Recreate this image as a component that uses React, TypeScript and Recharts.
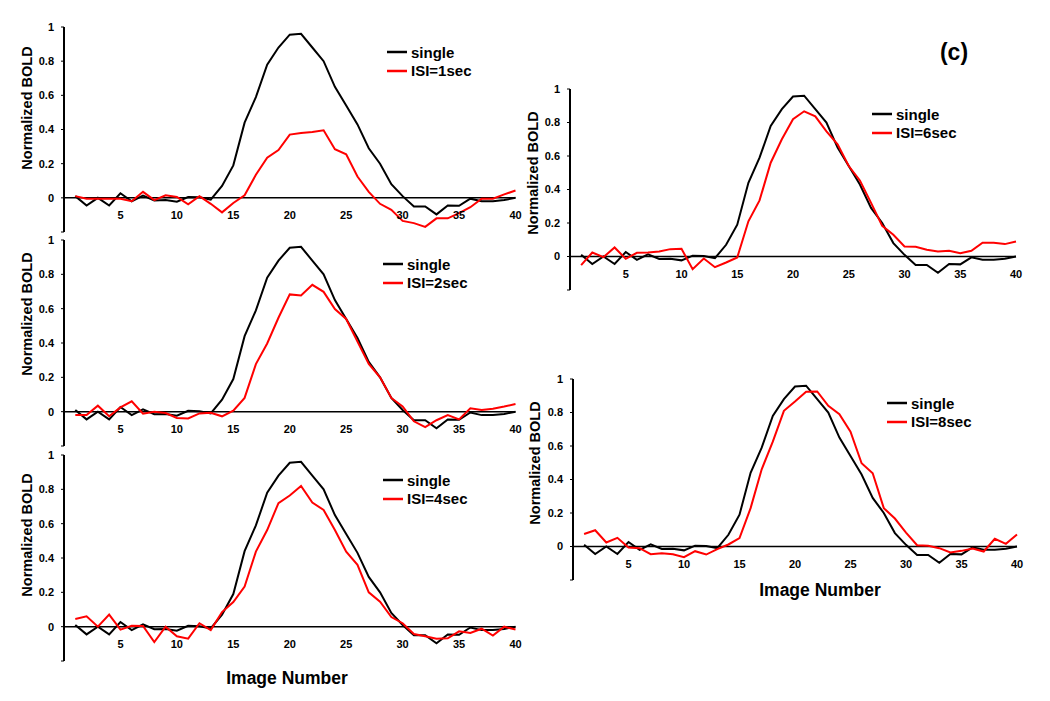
import { LineChart, Line, XAxis, YAxis, ReferenceLine, Legend } from "recharts";

const imageNumbers = [
  1, 2, 3, 4, 5, 6, 7, 8, 9, 10, 11, 12, 13, 14, 15, 16, 17, 18, 19, 20,
  21, 22, 23, 24, 25, 26, 27, 28, 29, 30, 31, 32, 33, 34, 35, 36, 37, 38, 39, 40,
];

const single = [
  0.01, -0.045, 0.0, -0.045, 0.027, -0.02, 0.013, -0.015, -0.013, -0.023,
  0.005, 0.003, -0.01, 0.07, 0.19, 0.44, 0.59, 0.78, 0.88, 0.955,
  0.96, 0.88, 0.8, 0.65, 0.54, 0.43, 0.29, 0.2, 0.08, 0.01,
  -0.05, -0.05, -0.097, -0.045, -0.047, -0.005, -0.02, -0.02, -0.013, 0.0,
];

const isi1 = [
  0.01, -0.005, -0.005, -0.005, -0.005, -0.02, 0.035, -0.013, 0.015, 0.005,
  -0.038, 0.01, -0.035, -0.085, -0.03, 0.015, 0.135, 0.235, 0.28, 0.37,
  0.38, 0.385, 0.395, 0.285, 0.255, 0.125, 0.035, -0.035, -0.07, -0.135,
  -0.148, -0.17, -0.12, -0.12, -0.09, -0.055, -0.005, -0.005, 0.02, 0.043,
];

const isi2 = [
  -0.02, -0.02, 0.035, -0.027, 0.025, 0.06, -0.012, 0.0, -0.008, -0.037,
  -0.04, -0.01, -0.006, -0.027, 0.006, 0.08, 0.277, 0.397, 0.547, 0.683,
  0.677, 0.739, 0.698, 0.598, 0.54, 0.408, 0.278, 0.2, 0.08, 0.03,
  -0.056, -0.09, -0.05, -0.02, -0.045, 0.02, 0.01, 0.017, 0.03, 0.045,
];

const isi4 = [
  0.045, 0.06, 0.0, 0.07, -0.017, 0.005, 0.004, -0.09, 0.0, -0.056,
  -0.07, 0.02, -0.02, 0.085, 0.143, 0.234, 0.437, 0.563, 0.72, 0.764,
  0.82, 0.723, 0.68, 0.563, 0.437, 0.36, 0.2, 0.145, 0.056, 0.02,
  -0.043, -0.056, -0.07, -0.068, -0.027, -0.037, -0.012, -0.052, 0.0, -0.017,
];

const isi6 = [
  -0.052, 0.024, -0.004, 0.054, -0.014, 0.022, 0.024, 0.03, 0.044, 0.046,
  -0.076, -0.012, -0.064, -0.036, -0.006, 0.21, 0.335, 0.56, 0.7, 0.82,
  0.867, 0.837, 0.747, 0.67, 0.54, 0.454, 0.32, 0.183, 0.13, 0.06,
  0.058, 0.04, 0.03, 0.034, 0.02, 0.034, 0.082, 0.082, 0.074, 0.09,
];

const isi8 = [
  0.075, 0.097, 0.024, 0.052, -0.006, -0.01, -0.046, -0.04, -0.046, -0.064,
  -0.028, -0.048, -0.016, 0.012, 0.05, 0.229, 0.461, 0.626, 0.81, 0.865,
  0.924, 0.926, 0.84, 0.79, 0.686, 0.497, 0.437, 0.229, 0.167, 0.083,
  0.008, 0.004, -0.01, -0.036, -0.026, -0.012, -0.03, 0.046, 0.016, 0.072,
];

const yTicks = [-0.2, 0, 0.2, 0.4, 0.6, 0.8, 1];
const xTicks = [5, 10, 15, 20, 25, 30, 35, 40];

const FONT = '"Liberation Sans", Arial, Helvetica, sans-serif';
const RED = "#ff0000";

type PanelProps = {
  name: string;
  values: number[];
  axisX: number;
  rightX: number;
  top: number;
  bottom: number;
  legendX: number;
  legendY: number;
};

function LegendBox({ name }: { name: string }) {
  const rows = [
    { label: "single", color: "#000" },
    { label: name, color: RED },
  ];
  return (
    <div style={{ fontFamily: FONT, fontWeight: 700, fontSize: 15 }}>
      {rows.map((r) => (
        <div
          key={r.label}
          style={{ display: "flex", alignItems: "center", height: 18.5, whiteSpace: "nowrap" }}
        >
          <svg width={20} height={4} style={{ marginRight: 4 }}>
            <line x1={0} y1={2} x2={20} y2={2} stroke={r.color} strokeWidth={2.5} />
          </svg>
          <span style={{ color: "#000" }}>{r.label}</span>
        </div>
      ))}
    </div>
  );
}

function Panel({ name, values, axisX, rightX, top, bottom, legendX, legendY }: PanelProps) {
  const yAxisW = 60;
  const mt = 8;
  const mr = 20;
  const boxLeft = axisX - yAxisW;
  const boxTop = top - mt;
  const width = rightX - axisX + yAxisW + mr;
  const height = bottom - top + mt + 1;
  const zeroShift = (bottom - top) * (0.2 / 1.2);

  const data = imageNumbers.map((n, i) => ({ n, single: single[i], isi: values[i] }));

  return (
    <div style={{ position: "absolute", left: boxLeft, top: boxTop }}>
      <LineChart
        width={width}
        height={height}
        data={data}
        margin={{ top: mt, right: mr, bottom: 0, left: 0 }}
      >
        <XAxis
          dataKey="n"
          type="number"
          domain={[0, 40]}
          ticks={xTicks}
          axisLine={false}
          tickLine={false}
          tickSize={0}
          tickMargin={0}
          height={1}
          interval={0}
          tick={(p: any) => (
            <text
              x={p.x}
              y={p.y - zeroShift + 21}
              textAnchor="middle"
              fontFamily={FONT}
              fontWeight={700}
              fontSize={11}
              fill="#000"
            >
              {p.payload.value}
            </text>
          )}
        />
        <YAxis
          type="number"
          domain={[-0.2, 1]}
          ticks={yTicks}
          width={yAxisW}
          interval={0}
          axisLine={{ stroke: "#000", strokeWidth: 2 }}
          tickLine={{ stroke: "#000", strokeWidth: 1 }}
          tickSize={3}
          tickMargin={7}
          tickFormatter={(v: number) => (v < -0.1 ? "" : String(v))}
          tick={{ fontFamily: FONT, fontWeight: 700, fontSize: 11, fill: "#000" }}
        />
        <ReferenceLine y={0} stroke="#000" strokeWidth={1.5} />
        <Legend
          layout="horizontal"
          verticalAlign="middle"
          align="center"
          content={() => <LegendBox name={name} />}
          wrapperStyle={{ left: legendX - boxLeft, top: legendY - boxTop - 9, width: "auto" }}
        />
        <Line
          dataKey="single"
          type="linear"
          stroke="#000"
          strokeWidth={2}
          dot={false}
          isAnimationActive={false}
        />
        <Line
          dataKey="isi"
          type="linear"
          stroke={RED}
          strokeWidth={2}
          dot={false}
          isAnimationActive={false}
        />
      </LineChart>
    </div>
  );
}

function YTitle({ cx, cy }: { cx: number; cy: number }) {
  return (
    <div
      style={{
        position: "absolute",
        left: cx,
        top: cy,
        transform: "translate(-50%, -50%) rotate(-90deg)",
        whiteSpace: "nowrap",
        fontFamily: FONT,
        fontWeight: 700,
        fontSize: 14.5,
        color: "#000",
      }}
    >
      Normalized BOLD
    </div>
  );
}

function XTitle({ cx, cy }: { cx: number; cy: number }) {
  return (
    <div
      style={{
        position: "absolute",
        left: cx,
        top: cy,
        transform: "translate(-50%, -50%)",
        whiteSpace: "nowrap",
        fontFamily: FONT,
        fontWeight: 700,
        fontSize: 17.5,
        color: "#000",
      }}
    >
      Image Number
    </div>
  );
}

export default function App() {
  return (
    <div
      style={{
        position: "absolute",
        left: 0,
        top: 0,
        width: 1050,
        height: 701,
        background: "#fff",
        overflow: "hidden",
      }}
    >
      <Panel name="ISI=1sec" values={isi1} axisX={63.5} rightX={515} top={27} bottom={232} legendX={387} legendY={52} />
      <Panel name="ISI=2sec" values={isi2} axisX={63.5} rightX={515} top={240} bottom={446} legendX={383} legendY={264} />
      <Panel name="ISI=4sec" values={isi4} axisX={63.5} rightX={515} top={455} bottom={661} legendX={383} legendY={480} />
      <Panel name="ISI=6sec" values={isi6} axisX={570} rightX={1016} top={89} bottom={290} legendX={872} legendY={114} />
      <Panel name="ISI=8sec" values={isi8} axisX={573} rightX={1017} top={379} bottom={580} legendX={887} legendY={403} />

      <YTitle cx={27} cy={108} />
      <YTitle cx={27} cy={314} />
      <YTitle cx={27} cy={535} />
      <YTitle cx={533} cy={173} />
      <YTitle cx={535} cy={463} />

      <XTitle cx={287} cy={678} />
      <XTitle cx={820} cy={590} />

      <div
        style={{
          position: "absolute",
          left: 954,
          top: 52,
          transform: "translate(-50%, -50%)",
          fontFamily: FONT,
          fontWeight: 700,
          fontSize: 23,
          color: "#000",
        }}
      >
        (c)
      </div>
    </div>
  );
}
